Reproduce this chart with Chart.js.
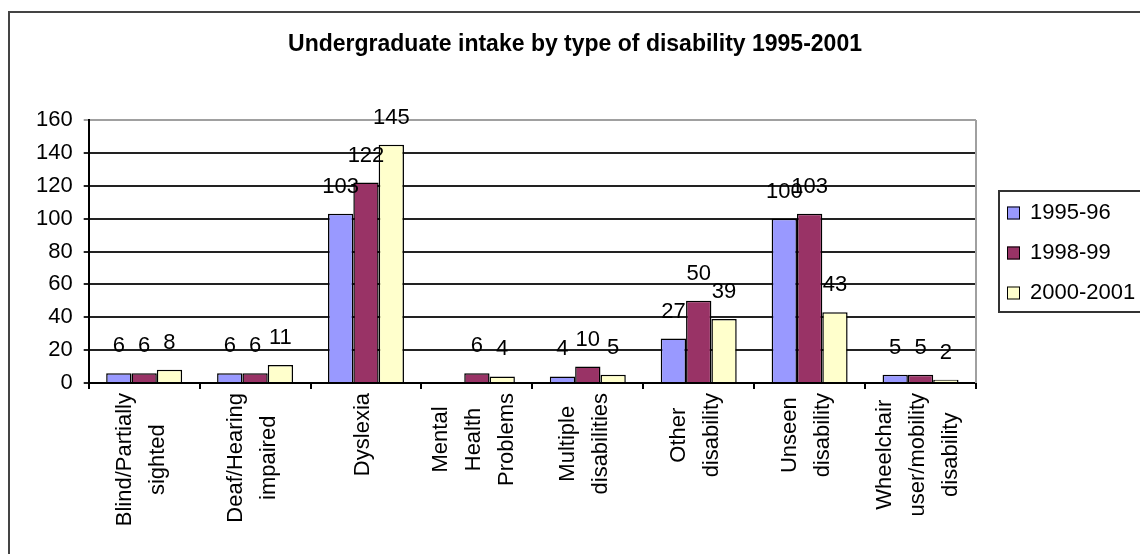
<!DOCTYPE html>
<html>
<head>
<meta charset="utf-8">
<script src="https://cdn.jsdelivr.net/npm/chart.js@4.4.1/dist/chart.umd.min.js"></script>
<style>
  html, body { margin: 0; padding: 0; background: #fff; }
  #wrap { width: 1140px; height: 554px; }
</style>
</head>
<body>
<div id="wrap"><canvas id="myChart" width="1140" height="554"></canvas></div>
<script>
// data
const categories = [
  ['Blind/Partially', 'sighted'],
  ['Deaf/Hearing', 'impaired'],
  ['Dyslexia'],
  ['Mental', 'Health', 'Problems'],
  ['Multiple', 'disabilities'],
  ['Other', 'disability'],
  ['Unseen', 'disability'],
  ['Wheelchair', 'user/mobility', 'disability']
];
const seriesNames = ['1995-96', '1998-99', '2000-2001'];
const values9596 = [6, 6, 103, null, 4, 27, 100, 5];
const values9899 = [6, 6, 122, 6, 10, 50, 103, 5];
const values0001 = [8, 11, 145, 4, 5, 39, 43, 2];
const yTicks = [0, 20, 40, 60, 80, 100, 120, 140, 160];
const chartTitle = 'Undergraduate intake by type of disability 1995-2001';

const fillColors = ['#9999ff', '#993366', '#ffffcc'];
const FONT = "'Liberation Sans', Arial, sans-serif";

// l'objet Chart
let myChart;

// outer frame, title, legend, rotated category labels, value labels
const excelLook = {
  id: 'excelLook',
  beforeDraw(chart) {
    const c = chart.ctx;
    c.save();
    c.strokeStyle = '#444';
    c.lineWidth = 2;
    c.beginPath();
    c.moveTo(9, 560);
    c.lineTo(9, 12);
    c.lineTo(1145, 12);
    c.stroke();
    c.restore();
  },
  afterDatasetsDraw(chart) {
    const c = chart.ctx;
    const area = chart.chartArea;
    c.save();
    // grey plot border on the right
    c.strokeStyle = '#a0a0a0';
    c.lineWidth = 2;
    c.beginPath();
    c.moveTo(area.right, area.top);
    c.lineTo(area.right, area.bottom);
    c.stroke();

    // value labels above bars
    c.fillStyle = '#000';
    c.font = `22px ${FONT}`;
    c.textAlign = 'center';
    c.textBaseline = 'middle';
    chart.data.datasets.forEach((ds, i) => {
      chart.getDatasetMeta(i).data.forEach((bar, j) => {
        const v = ds.data[j];
        if (v === null || v === undefined) return;
        c.fillText(String(v), bar.x, bar.y - 27);
      });
    });
    c.restore();
  },
  afterDraw(chart) {
    const c = chart.ctx;
    const xs = chart.scales.x;
    c.save();

    // title
    c.fillStyle = '#000';
    c.font = `bold 23px 'Liberation Sans Narrow', ${FONT}`;
    c.textAlign = 'center';
    c.textBaseline = 'middle';
    c.fillText(chartTitle, 575, 45, 586);

    // category labels, rotated, lines centred in a block hung under the axis
    c.font = `22px ${FONT}`;
    const lineGap = 33;
    categories.forEach((lines, i) => {
      const cx = xs.getPixelForValue(i) - 3;
      const longest = Math.max(...lines.map(l => c.measureText(l).width));
      const cy = xs.bottom + 4 + longest / 2;
      lines.forEach((l, k) => {
        const lx = cx + (k - (lines.length - 1) / 2) * lineGap;
        c.save();
        c.translate(lx, cy);
        c.rotate(-Math.PI / 2);
        c.fillText(l, 0, 0);
        c.restore();
      });
    });

    // legend box
    c.strokeStyle = '#333';
    c.lineWidth = 2;
    c.strokeRect(999, 191, 160, 121);
    c.textAlign = 'left';
    seriesNames.forEach((name, i) => {
      const y = 213 + i * 40;
      c.fillStyle = fillColors[i];
      c.fillRect(1007, y - 6.5, 13, 13);
      c.strokeStyle = '#000';
      c.lineWidth = 1;
      c.strokeRect(1007.5, y - 6, 12, 12);
      c.fillStyle = '#000';
      c.fillText(name, 1030, y);
    });
    c.restore();
  }
};

const setup = () => {
  const ctxt = document.getElementById('myChart').getContext('2d');
  const seriesValues = [values9596, values9899, values0001];

  myChart = new Chart(ctxt, {
    type: 'bar',
    data: {
      labels: categories,
      datasets: seriesNames.map((name, i) => ({
        label: name,
        data: seriesValues[i],
        backgroundColor: fillColors[i],
        borderColor: '#000',
        borderWidth: 1.5,
        barPercentage: 1,
        categoryPercentage: 0.685
      }))
    },
    options: {
      responsive: false,
      animation: false,
      devicePixelRatio: 1,
      layout: { padding: { top: 120, left: 25, right: 164, bottom: 165 } },
      plugins: {
        legend: { display: false },
        title: { display: false },
        tooltip: { enabled: false }
      },
      scales: {
        x: {
          grid: { offset: true, drawOnChartArea: false, tickLength: 6, color: '#000', lineWidth: 2 },
          border: { color: '#000', width: 2 },
          ticks: { display: false }
        },
        y: {
          min: 0,
          max: 160,
          afterBuildTicks: s => { s.ticks = yTicks.map(v => ({ value: v })); },
          grid: {
            color: ctx => (ctx.tick && ctx.tick.value === 160 ? '#a0a0a0' : '#222'),
            lineWidth: 2,
            tickLength: 5
          },
          border: { color: '#000', width: 2 },
          ticks: { font: { family: FONT, size: 22 }, color: '#000', padding: 11 }
        }
      }
    },
    plugins: [excelLook]
  });
};

window.addEventListener('DOMContentLoaded', setup);
</script>
</body>
</html>
